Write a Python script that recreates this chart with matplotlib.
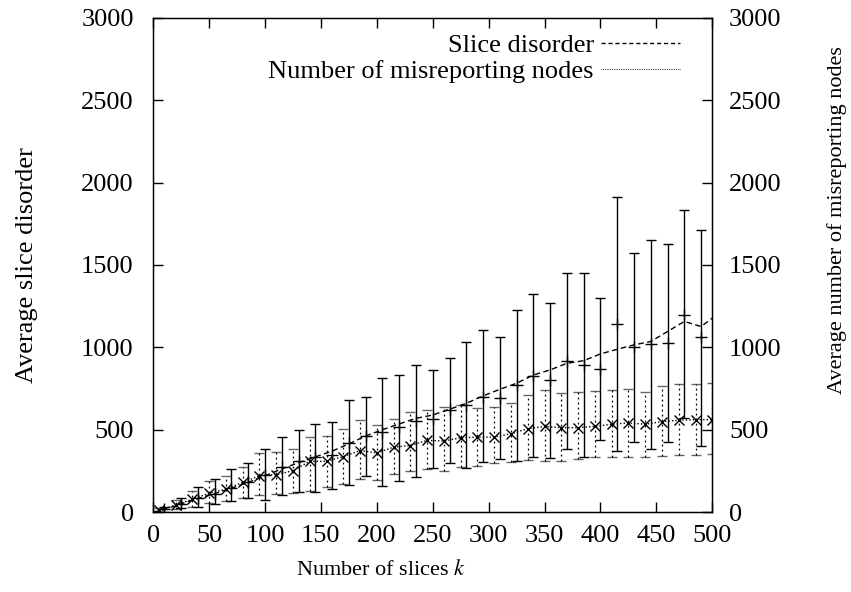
import numpy as np
import matplotlib
matplotlib.use('Agg')
import matplotlib.pyplot as plt
from matplotlib.lines import Line2D

plt.rcParams['font.family'] = ['Liberation Serif', 'DejaVu Serif']
plt.rcParams['mathtext.fontset'] = 'stix'

# slice disorder: mean (+), lower and upper end of the error bars
sd_x = [10, 25, 40, 55, 70, 85, 100, 115, 130, 145, 160, 175, 190, 205, 220, 235, 250,
        265, 280, 295, 310, 325, 340, 355, 370, 385, 400, 415, 430, 445, 460, 475, 490]
sd_mean = [16, 51, 84, 108, 145, 180, 227, 276, 308, 337, 349, 418, 462, 488, 514, 555, 567,
           620, 650, 700, 695, 772, 828, 802, 919, 893, 869, 1142, 1000, 1020, 1029, 1199, 1061]
sd_low = [2, 22, 31, 47, 67, 84, 73, 104, 122, 124, 139, 163, 220, 159, 190, 210, 267,
          296, 267, 302, 322, 312, 337, 329, 384, 337, 439, 373, 424, 384, 424, 569, 404]
sd_high = [30, 88, 153, 200, 261, 298, 384, 455, 496, 537, 547, 680, 700, 816, 830, 891, 861,
           936, 1031, 1104, 1061, 1225, 1324, 1268, 1448, 1448, 1302, 1910, 1572, 1652, 1626, 1831, 1713]

# smoothed slice disorder curve (dashed)
line_x = [0] + sd_x + [500]
line_y = [0, 15, 50, 82, 112, 145, 180, 220, 262, 300, 335, 370, 414, 462, 500, 535, 569, 589,
          624, 660, 705, 745, 782, 832, 863, 903, 919, 960, 988, 1015, 1035, 1096, 1157, 1126, 1177]

# misreporting nodes: mean (x) and error bar ends
mr_x = [5, 20, 35, 50, 65, 80, 95, 110, 125, 140, 155, 170, 185, 200, 215, 230, 245,
        260, 275, 290, 305, 320, 335, 350, 365, 380, 395, 410, 425, 440, 455, 470, 485, 500]
mr_mean = [10, 43, 78, 114, 139, 180, 220, 227, 251, 308, 308, 337, 373, 359, 394, 404, 435,
           431, 451, 455, 455, 476, 506, 520, 512, 512, 520, 533, 541, 533, 549, 557, 561, 561]
mr_low = [0, 20, 31, 57, 67, 88, 102, 108, 118, 129, 153, 173, 200, 194, 231, 251, 261,
          251, 276, 282, 296, 302, 316, 312, 312, 322, 333, 333, 337, 333, 343, 349, 349, 353]
mr_high = [22, 71, 129, 190, 220, 276, 357, 363, 384, 455, 459, 506, 561, 527, 567, 608, 618,
           639, 649, 629, 639, 663, 710, 741, 720, 731, 737, 741, 745, 731, 765, 778, 778, 786]

fs = 19
fs_lab = 16
fig = plt.figure(figsize=(8.51, 5.92), dpi=100)
ax = fig.add_axes([0.180, 0.135, 0.657, 0.835])

sd_err = [np.array(sd_mean) - np.array(sd_low), np.array(sd_high) - np.array(sd_mean)]
ax.errorbar(sd_x, sd_mean, yerr=sd_err, fmt='+', color='black', ms=9, mew=1.0,
            elinewidth=1.0, capsize=3.5, capthick=1.0)
ax.plot(line_x, line_y, color='black', lw=1.0, ls=(0, (4, 2.5)))

mr_err = [np.array(mr_mean) - np.array(mr_low), np.array(mr_high) - np.array(mr_mean)]
eb = ax.errorbar(mr_x, mr_mean, yerr=mr_err, fmt='x', color='black', ms=7, mew=1.0,
                 elinewidth=0.9, capsize=3.5, capthick=0.6)
eb[2][0].set_linestyle((0, (1.5, 2.5)))
for c in eb[1]:
    c.set_alpha(0.6)
ax.plot(mr_x, mr_mean, color='black', lw=1.0, ls=(0, (1, 1.5)))

ax.set_xlim(0, 500)
ax.set_ylim(0, 3000)
ax.set_xticks(range(0, 501, 50))
ax.set_yticks(range(0, 3001, 500))
ax.tick_params(direction='in', length=7, width=1.0, labelsize=fs, top=True, right=False)
ax.tick_params(axis='x', pad=9)
ax.tick_params(axis='y', pad=14)
for s in ax.spines.values():
    s.set_linewidth(1.0)
ax.set_xlabel('Number of slices $k$', fontsize=fs_lab)
ax.xaxis.set_label_coords(0.408, -0.096)
ax.set_ylabel('Average slice disorder', fontsize=fs, labelpad=31)

ax2 = ax.twinx()
ax2.set_ylim(0, 3000)
ax2.set_yticks(range(0, 3001, 500))
ax2.tick_params(direction='in', length=7, width=1.0, labelsize=fs, pad=12)
ax2.set_ylabel('Average number of misreporting nodes', fontsize=fs_lab)
ax2.yaxis.set_label_coords(1.206, 0.59)

handles = [Line2D([], [], color='black', lw=1.0, ls=(0, (3, 2))),
           Line2D([], [], color='black', lw=0.8, ls=(0, (0.6, 1.0)))]
ax.legend(handles, ['Slice disorder', 'Number of misreporting nodes'], loc='upper right',
          bbox_to_anchor=(0.97, 1.0), frameon=False, markerfirst=False, fontsize=fs,
          handlelength=3.0, handletextpad=0.25, labelspacing=0.1, borderaxespad=0.2)

fig.savefig('out.png', dpi=100)
